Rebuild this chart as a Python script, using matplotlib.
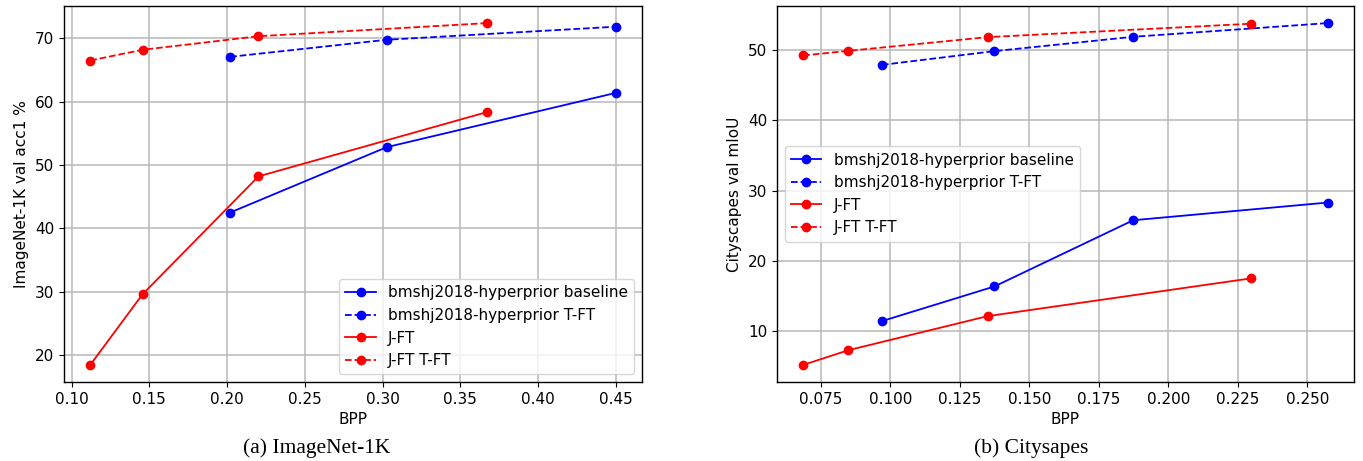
import matplotlib
matplotlib.use("Agg")
import matplotlib.pyplot as plt

# ImageNet-1K panel
in_base_x = [0.202, 0.3026, 0.450]
in_base_y = [42.5, 52.8, 61.36]
in_tft_x = [0.202, 0.3026, 0.450]
in_tft_y = [67.05, 69.74, 71.8]
in_jft_x = [0.112, 0.1456, 0.2202, 0.3675]
in_jft_y = [18.47, 29.6, 48.2, 58.36]
in_jtft_x = [0.112, 0.1456, 0.2202, 0.3675]
in_jtft_y = [66.47, 68.16, 70.3, 72.37]

# Cityscapes panel
cs_base_x = [0.097, 0.1375, 0.1874, 0.2574]
cs_base_y = [11.43, 16.37, 25.79, 28.31]
cs_tft_x = [0.097, 0.1375, 0.1874, 0.2574]
cs_tft_y = [47.9, 49.86, 51.9, 53.85]
cs_jft_x = [0.0687, 0.0849, 0.135, 0.2298]
cs_jft_y = [5.2, 7.29, 12.14, 17.52]
cs_jtft_x = [0.0687, 0.0849, 0.135, 0.2298]
cs_jtft_y = [49.24, 49.9, 51.85, 53.76]

labels = ["bmshj2018-hyperprior baseline", "bmshj2018-hyperprior T-FT", "J-FT", "J-FT T-FT"]

W, H = 1363, 461
fig = plt.figure(figsize=(W / 100, H / 100), dpi=100)
fs = 11
plt.rcParams['font.size'] = fs

def px_axes(l, r, t, b):
    return fig.add_axes([l / W, 1 - b / H, (r - l) / W, (b - t) / H])

ax1 = px_axes(64, 642, 6, 382)
ax2 = px_axes(777, 1354, 6, 382)

def draw(ax, data, ylabel, loc):
    styles = [("blue", "-"), ("blue", "--"), ("red", "-"), ("red", "--")]
    for (x, y), (c, ls), lab in zip(data, styles, labels):
        ax.plot(x, y, color=c, linestyle=ls, marker="o", markersize=6, linewidth=1.3, label=lab)
    ax.grid(True, color="#b8b8b8", linewidth=1.1)
    ax.set_xlabel("BPP", fontsize=fs)
    ax.set_ylabel(ylabel, fontsize=fs)
    ax.tick_params(labelsize=fs)
    for s in ax.spines.values():
        s.set_linewidth(1.0)
    ax.legend(loc=loc, fontsize=fs)

draw(ax1, [(in_base_x, in_base_y), (in_tft_x, in_tft_y), (in_jft_x, in_jft_y), (in_jtft_x, in_jtft_y)],
     "ImageNet-1K val acc1 %", "lower right")
draw(ax2, [(cs_base_x, cs_base_y), (cs_tft_x, cs_tft_y), (cs_jft_x, cs_jft_y), (cs_jtft_x, cs_jtft_y)],
     "Cityscapes val mIoU", "center left")

fig.text(317 / W, 1 - 448 / H, "(a) ImageNet-1K", ha="center", va="center",
         family="Liberation Serif", fontsize=15.5)
fig.text(1031 / W, 1 - 448 / H, "(b) Citysapes", ha="center", va="center",
         family="Liberation Serif", fontsize=15.5)

fig.savefig("out.png", dpi=100)
